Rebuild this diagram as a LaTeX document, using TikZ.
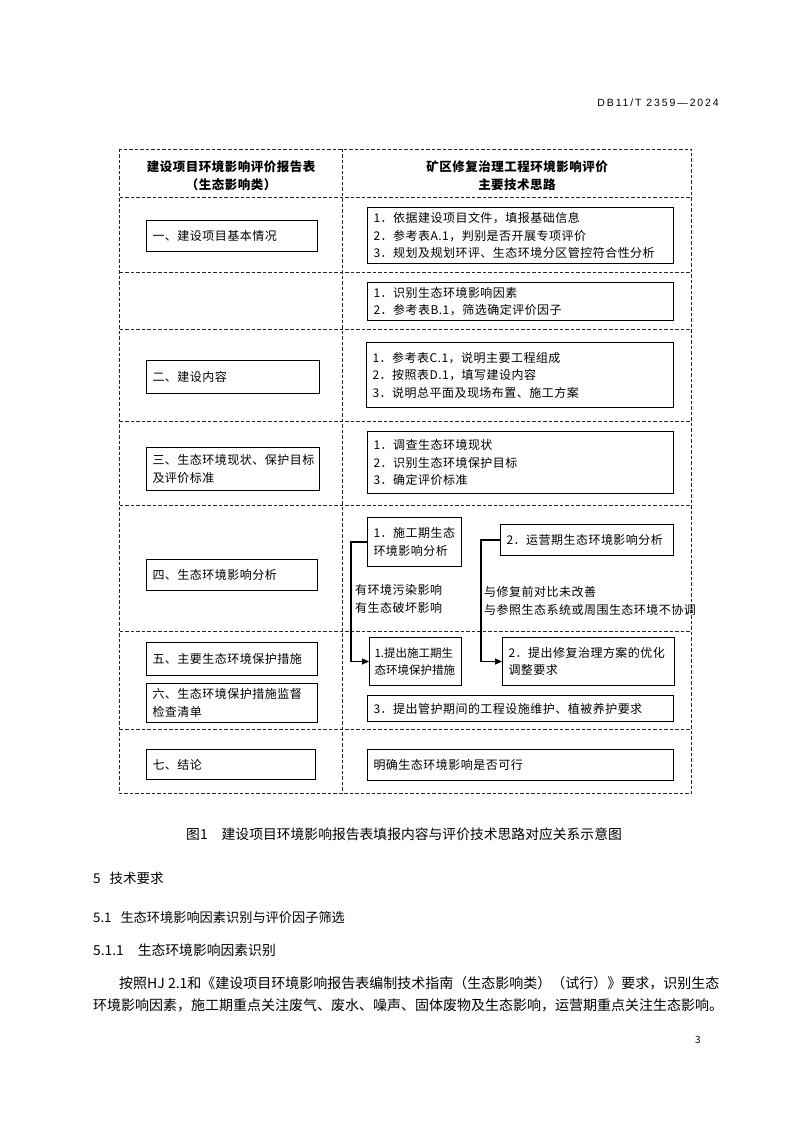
\documentclass[tikz,border=0pt]{standalone}
\usepackage{fontspec}
\setmainfont{Noto Sans CJK SC}
\newfontfamily\tabfont[LetterSpace=4]{Noto Sans CJK SC}
\newfontfamily\hdrfont[LetterSpace=18]{Liberation Sans}
\usetikzlibrary{arrows.meta}
\tikzset{
  frame/.style={draw=black!85, line width=0.9pt, dash pattern=on 3.5pt off 2pt},
  box/.style={draw, line width=1pt, anchor=north west, inner xsep=6pt, inner ysep=0pt,
              align=left, font=\tabfont\fontsize{12}{17.5}\selectfont},
  headtxt/.style={align=center, font=\tabfont\bfseries\fontsize{12.5}{17.6}\selectfont},
  lbl/.style={anchor=west, align=left, inner sep=0pt, font=\tabfont\fontsize{12}{17.5}\selectfont},
  conn/.style={line width=1.1pt, -{Triangle[length=7pt,width=6pt]}},
  pagetxt/.style={anchor=west, inner sep=0pt},
}
\begin{document}
\begin{tikzpicture}[x=1pt,y=-1pt]
\fill[white] (0,0) rectangle (793,1123);
\useasboundingbox (0,0) rectangle (793,1123);

% running header
\node[anchor=east, inner sep=0pt, font=\hdrfont\fontsize{10.5}{12}\selectfont] (hdr) at (719,103) {DB11/T 2359—2024};

% table frame
\draw[frame] (119.5,149) rectangle (691.5,793.5);
\draw[frame] (342.5,149) -- (342.5,793.5);
\foreach \yy in {197.5,272,329,421,505.5,631.5,729.5}
  \draw[frame] (119.5,\yy) -- (691.5,\yy);

% headers
\node[headtxt] (h1) at (231,175.5) {建设项目环境影响评价报告表\\（生态影响类）};
\node[headtxt] (h2) at (517,175.5) {矿区修复治理工程环境影响评价\\主要技术思路};

% left column boxes
\node[box, text width=159pt, minimum height=31pt] (l1) at (146,220) {一、建设项目基本情况};
\node[box, text width=161pt, minimum height=33pt] (l3) at (146,360) {二、建设内容};
\node[box, text width=161pt, minimum height=43pt] (l4) at (146,447) {三、生态环境现状、保护目标\\及评价标准};
\node[box, text width=159pt, minimum height=31pt] (l5) at (146,559) {四、生态环境影响分析};
\node[box, text width=159pt, minimum height=33pt] (l6) at (146,642) {五、主要生态环境保护措施};
\node[box, text width=159pt, minimum height=39pt] (l7) at (146,683) {六、生态环境保护措施监督\\检查清单};
\node[box, text width=157pt, minimum height=30pt] (l8) at (146,749) {七、结论};

% right column boxes
\node[box, text width=294pt, minimum height=56pt] (r1) at (367,207)
  {1．依据建设项目文件，填报基础信息\\2．参考表A.1，判别是否开展专项评价\\3．规划及规划环评、生态环境分区管控符合性分析};
\node[box, text width=294pt, minimum height=38pt] (r2) at (367,282)
  {1．识别生态环境影响因素\\2．参考表B.1，筛选确定评价因子};
\node[box, text width=295pt, minimum height=65pt] (r3) at (366,342)
  {1．参考表C.1，说明主要工程组成\\2．按照表D.1，填写建设内容\\3．说明总平面及现场布置、施工方案};
\node[box, text width=294pt, minimum height=62pt] (r4) at (367,431)
  {1．调查生态环境现状\\2．识别生态环境保护目标\\3．确定评价标准};
\node[box, text width=82pt, minimum height=49pt] (r5a) at (367,517) {1．施工期生态\\环境影响分析};
\node[box, text width=161pt, minimum height=31pt] (r5b) at (500,524) {2．运营期生态环境影响分析};
\node[box, text width=82pt, minimum height=48pt, inner xsep=5pt,
      font=\fontsize{11.5}{17.5}\selectfont] (r6a) at (369,637) {1.提出施工期生\\态环境保护措施};
\node[box, text width=160pt, minimum height=48pt] (r6b) at (502,637) {2．提出修复治理方案的优化\\调整要求};
\node[box, text width=294pt, minimum height=26pt] (r6c) at (367,695) {3．提出管护期间的工程设施维护、植被养护要求};
\node[box, text width=294pt, minimum height=31pt] (r7) at (367,749) {明确生态环境影响是否可行};

% connectors
\draw[conn] (r5a.west) -- ++(-16,0) |- (r6a.west);
\draw[conn] (r5b.west) -- ++(-19,0) |- (r6b.west);
\node[lbl] (c1) at (355,599) {有环境污染影响\\有生态破坏影响};
\node[lbl] (c2) at (484,601) {与修复前对比未改善\\与参照生态系统或周围生态环境不协调};

% caption and body text
\node[pagetxt, font=\fontsize{13.8}{16}\selectfont] (cap) at (186,834) {图1\hspace{14pt}建设项目环境影响报告表填报内容与评价技术思路对应关系示意图};
\node[pagetxt, font=\fontsize{13.5}{16}\selectfont] (s5) at (93,878) {5\hspace{9pt}技术要求};
\node[pagetxt, font=\fontsize{13.2}{16}\selectfont] (s51) at (93,917) {5.1\hspace{9pt}生态环境影响因素识别与评价因子筛选};
\node[pagetxt, font=\fontsize{13.8}{16}\selectfont] (s511) at (93,950) {5.1.1\hspace{14pt}生态环境影响因素识别};
\node[pagetxt, font=\fontsize{14}{16}\selectfont] (p1) at (119,983) {按照HJ 2.1和《建设项目环境影响报告表编制技术指南（生态影响类）（试行）》要求，识别生态};
\node[pagetxt, font=\fontsize{14}{16}\selectfont] (p2) at (93,1005) {环境影响因素，施工期重点关注废气、废水、噪声、固体废物及生态影响，运营期重点关注生态影响。};
\node[pagetxt, font=\fontsize{10}{12}\selectfont] (pg) at (695,1040) {3};
\end{tikzpicture}
\end{document}
